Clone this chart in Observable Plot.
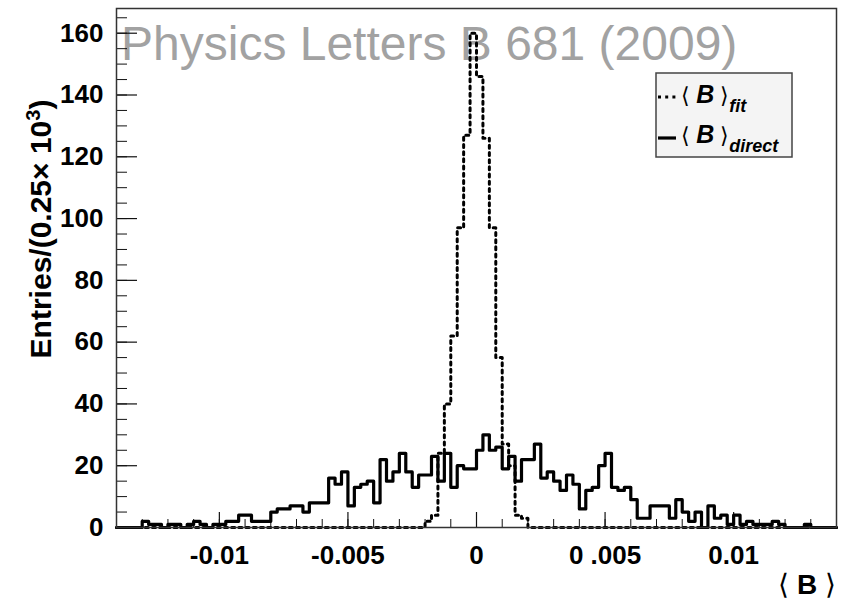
<!DOCTYPE html>
<html>
<head>
<meta charset="utf-8">
<script src="https://cdn.jsdelivr.net/npm/d3@7"></script>
<script src="https://cdn.jsdelivr.net/npm/@observablehq/plot@0.6"></script>
<style>
  body { margin: 0; background: #fff; }
  #wrap { position: relative; width: 846px; height: 600px; }
</style>
</head>
<body>
<div id="wrap"></div>
<script>
// ---- data ----
const xMin = -0.014;
const xMax = 0.014;
const binWidth = 0.00025;

// <B>_direct : entries per bin (112 bins from -0.014 to 0.014)
const directCounts = [
  0,0,0,0,2,1,1,0,1,1,0,1,2,1,0,1,1,2,2,4,
  4,2,2,2,5,6,6,7,7,5,8,8,8,16,14,18,7,13,14,15,
  8,22,15,18,24,18,13,17,17,23,15,24,13,20,19,19,25,30,25,26,
  19,23,15,22,22,27,16,18,15,12,17,14,6,12,13,20,24,13,12,13,
  9,3,3,7,7,7,3,9,5,2,5,0,7,3,4,1,4,1,2,1,
  1,1,2,1,0,0,0,1,0,0,0,0
];

// <B>_fit : entries per bin
const fitCounts = [
  0,0,0,0,0,0,0,0,0,0,0,0,0,0,0,0,0,0,0,0,
  0,0,0,0,0,0,0,0,0,0,0,0,0,0,0,0,0,0,0,0,
  0,0,0,0,0,0,0,0,2,4,24,40,62,97,127,160,146,126,97,55,
  27,20,4,3,0,0,0,0,0,0,0,0,0,0,0,0,0,0,0,0,
  0,0,0,0,0,0,0,0,0,0,0,0,0,0,0,0,0,0,0,0,
  0,0,0,0,0,0,0,0,0,0,0,0
];

const xTickValues = [-0.01, -0.005, 0, 0.005, 0.01];
const xTickLabels = ["-0.01", "-0.005", "0", "0 .005", "0.01"];
const xMinorTicks = [-0.013,-0.012,-0.011,-0.01,-0.009,-0.008,-0.007,-0.006,-0.005,-0.004,-0.003,-0.002,-0.001,0,
                     0.001,0.002,0.003,0.004,0.005,0.006,0.007,0.008,0.009,0.01,0.011,0.012,0.013];
const yTickValues = [0, 20, 40, 60, 80, 100, 120, 140, 160];
const yMinorTicks = [0,5,10,15,20,25,30,35,40,45,50,55,60,65,70,75,80,85,90,95,100,105,110,115,120,125,130,135,140,145,150,155,160,165];
const yMax = 168;

// ---- build step data ----
function stepPoints(counts) {
  const pts = counts.map((v, i) => ({x: xMin + i * binWidth, y: v}));
  pts.push({x: xMin + counts.length * binWidth, y: counts[counts.length - 1]});
  return pts;
}
const directPts = stepPoints(directCounts);
const fitPts = stepPoints(fitCounts);

const W = 846, H = 600, mL = 116, mR = 10, mT = 8, mB = 73;
const frameW = W - mL - mR, frameH = H - mT - mB;
const font = "'Liberation Sans', Arial, Helvetica, sans-serif";

const chart = Plot.plot({
  width: W, height: H,
  marginLeft: mL, marginRight: mR, marginTop: mT, marginBottom: mB,
  style: {fontFamily: font, background: "white", color: "black"},
  x: {domain: [xMin, xMax]},
  y: {domain: [0, yMax]},
  marks: [
    Plot.tickX(xMinorTicks, {x: d => d, stroke: "#111", strokeWidth: 1, insetTop: frameH - 8}),
    Plot.tickX(xTickValues, {x: d => d, stroke: "#111", strokeWidth: 1.2, insetTop: frameH - 15}),
    Plot.tickY(yMinorTicks, {y: d => d, stroke: "#111", strokeWidth: 1, insetRight: frameW - 11}),
    Plot.tickY(yTickValues, {y: d => d, stroke: "#111", strokeWidth: 1.2, insetRight: frameW - 21}),
    Plot.lineY(fitPts, {x: "x", y: "y", curve: "step-after", stroke: "black", strokeWidth: 3, strokeDasharray: "3,4.2"}),
    Plot.lineY(directPts, {x: "x", y: "y", curve: "step-after", stroke: "black", strokeWidth: 3.2}),
    Plot.frame({stroke: "#333", strokeWidth: 1.5}),
    Plot.axisX({ticks: xTickValues, tickSize: 0, tickPadding: 18, label: null,
      tickFormat: d => xTickLabels[xTickValues.indexOf(d)],
      fontSize: 26, fontWeight: "bold"}),
    Plot.axisY({ticks: yTickValues, tickSize: 0, tickPadding: 13, label: null,
      tickFormat: d => String(d), fontSize: 26, fontWeight: "bold"})
  ]
});

document.getElementById("wrap").appendChild(chart);
const svg = d3.select(chart);

// watermark behind everything
svg.insert("text", ":first-child")
  .attr("x", 121).attr("y", 60)
  .attr("text-anchor", "start")
  .attr("font-family", font).attr("font-size", 48)
  .attr("fill", "#a2a2a2")
  .text("Physics Letters B 681 (2009)");

// y title
const yt = svg.append("text")
  .attr("transform", "translate(51,229) rotate(-90)")
  .attr("text-anchor", "middle")
  .attr("font-family", font).attr("font-size", 30).attr("font-weight", "bold")
  .attr("fill", "black");
yt.append("tspan").text("Entries/(0.25\u00d7 10");
yt.append("tspan").attr("dy", -11).attr("font-size", 20).text("3");
yt.append("tspan").attr("dy", 11).text(")");

// x title
const xt = svg.append("text")
  .attr("x", 836).attr("y", 594)
  .attr("text-anchor", "end")
  .attr("font-family", font).attr("font-size", 28)
  .attr("fill", "black");
xt.append("tspan").attr("font-weight", "normal").text("\u27e8 ");
xt.append("tspan").attr("font-weight", "bold").text("B");
xt.append("tspan").attr("font-weight", "normal").text(" \u27e9");

// legend
const lg = svg.append("g").attr("text-anchor", "start");
lg.append("rect").attr("x", 656).attr("y", 73).attr("width", 136).attr("height", 84)
  .attr("fill", "#f4f4f4").attr("stroke", "#444").attr("stroke-width", 1.5);
lg.append("line").attr("x1", 658).attr("x2", 679).attr("y1", 97).attr("y2", 97)
  .attr("stroke", "black").attr("stroke-width", 3).attr("stroke-dasharray", "3,4.2");
lg.append("line").attr("x1", 658).attr("x2", 676).attr("y1", 138).attr("y2", 138)
  .attr("stroke", "black").attr("stroke-width", 3.2);
function legendLabel(y, sub) {
  const t = lg.append("text").attr("x", 681).attr("y", y)
    .attr("text-anchor", "start")
    .attr("font-family", font).attr("fill", "black");
  t.append("tspan").attr("font-size", 22).text("\u27e8 ");
  t.append("tspan").attr("font-size", 25).attr("font-weight", "bold").attr("font-style", "italic").text("B");
  t.append("tspan").attr("font-size", 22).text(" \u27e9");
  t.append("tspan").attr("font-size", 18).attr("font-weight", "bold").attr("font-style", "italic")
    .attr("dy", 9).text(sub);
}
legendLabel(103, "fit");
legendLabel(143, "direct");
</script>
</body>
</html>
